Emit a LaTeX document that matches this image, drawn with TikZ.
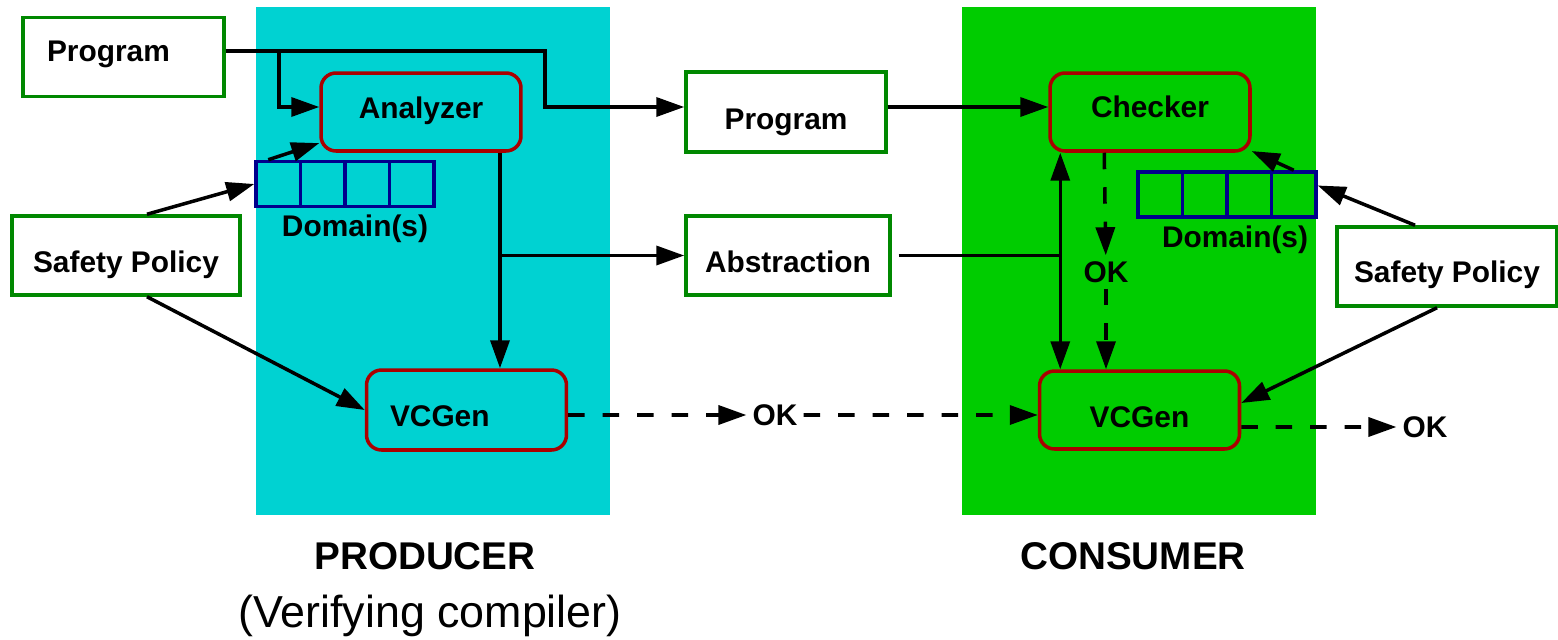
\documentclass[tikz,border=0pt]{standalone}
\usepackage{fontspec}
\setmainfont{Liberation Sans}
\usetikzlibrary{arrows.meta}

\definecolor{prodbg}{RGB}{0,210,210}
\definecolor{consbg}{RGB}{0,204,0}
\definecolor{boxgreen}{RGB}{0,136,0}
\definecolor{boxred}{RGB}{170,0,0}
\definecolor{cellblue}{RGB}{0,0,140}

\begin{document}
\begin{tikzpicture}[x=0.02cm, y=-0.02cm, font=\fontsize{17}{20}\selectfont\bfseries,
  >={Triangle[length=0.56cm,width=0.38cm]},
  textdrop/.style={text height=#1, text depth=0.13cm},
  gbox/.style={draw=boxgreen, line width=2pt, fill=white, minimum height=1.58cm, inner sep=0pt},
  rbox/.style={draw=boxred, line width=2pt, rounded corners=0.3cm, minimum width=4cm, minimum height=1.56cm, inner sep=0pt},
  cell/.style={draw=cellblue, line width=2pt, minimum width=0.89cm, minimum height=0.9cm, inner sep=0pt},
  flow/.style={line width=2pt, ->},
  okflow/.style={flow, dash pattern=on 0.33cm off 0.36cm}]
\useasboundingbox (0,0) rectangle (1558,639);
% the two sides
\fill[prodbg] (256,7) rectangle (610,515); \fill[consbg] (962,7) rectangle (1316,515);
\node[font=\fontsize{22}{26}\selectfont\bfseries] (prodlab) at (425,556) {PRODUCER};
\node[font=\fontsize{25.5}{30}\selectfont] (prodsub) at (430,616) {(Verifying compiler)};
\node[font=\fontsize{22}{26}\selectfont\bfseries] (conslab) at (1133,556) {CONSUMER};
% producer
\node[gbox, textdrop=0.32cm, text width=3.06cm, align=left, inner xsep=0.48cm] (prog1) at (123.5,57) {Program};
\node[gbox, textdrop=0.82cm, minimum width=4.56cm] (safe1) at (126,255.5) {Safety Policy};
\node[rbox, textdrop=0.40cm] (anal) at (421,112) {Analyzer};
\node[rbox, textdrop=0.80cm, minimum height=1.6cm, text width=3.06cm, align=left, inner xsep=0.46cm] (vcg1) at (466.5,410) {VCGen};
\foreach \c [count=\k] in {a,b,c,d} \node[cell] (d1\c) at (233.75+44.5*\k,184) {};
\node (dom1) at (355,229) {Domain(s)};
% in between
\node[gbox, textdrop=0.84cm, minimum width=4cm, minimum height=1.6cm] (prog2) at (786,112) {Program};
\node[gbox, textdrop=0.82cm, minimum width=4.08cm] (abst) at (788,255.5) {Abstraction};
\node (ok1) at (775,415) {OK};
% consumer
\node[rbox, textdrop=0.36cm] (chk) at (1150,112) {Checker};
\node[rbox, textdrop=0.84cm] (vcg2) at (1139.5,410) {VCGen};
\node[gbox, textdrop=0.78cm, minimum width=4.4cm] (safe2) at (1447,266.5) {Safety Policy};
\foreach \c [count=\k] in {a,b,c,d} \node[cell] (d2\c) at (1115.75+44.5*\k,194.5) {};
\node (dom2) at (1235,240) {Domain(s)};
\node (ok3) at (1106,272) {OK}; \node (ok2) at (1425,427) {OK};
% connectors
\coordinate (pj) at (545,80); \coordinate (aj) at (279,51); \coordinate (vx) at ([xshift=.24cm]chk.south west);
\draw[flow] ([yshift=.12cm]prog1.east) -| (pj) |- ([yshift=.1cm]prog2.west);
\draw[flow] (aj) |- ([yshift=.1cm]anal.west);
\draw[flow] ([xshift=.42cm]safe1.north) -- (d1a.west);
\draw[flow] ([xshift=-.2cm]d1a.north) -- (anal.197);
\draw[flow] ([xshift=.42cm]safe1.south) -- (vcg1.west);
\coordinate (a1) at ([xshift=1.58cm]anal.south);
\draw[flow] (a1) -- (a1 |- vcg1.north); \draw[flow] (a1 |- abst.west) -- (abst.west);
\draw[flow] ([yshift=.1cm]prog2.east) -- ([yshift=.1cm]chk.west);
\draw[line width=2pt] ([xshift=.14cm]abst.east) -- (abst.east -| vx);
\draw[line width=2pt, <->] (vx) -- (vx |- vcg2.north);
\draw[okflow] ([xshift=1.12cm]chk.south west) -- (ok3); \draw[okflow] (ok3) -- (ok3 |- vcg2.north);
\draw[okflow] ([yshift=-.1cm]vcg1.east) -- (ok1); \draw[okflow] (ok1) -- ([yshift=-.1cm]vcg2.west);
\draw[okflow] ([yshift=-.34cm]vcg2.east) -- (ok2);
\draw[flow] ([xshift=-.64cm]safe2.north) -- ([yshift=.18cm]d2d.east);
\draw[flow] (d2d.north) -- (chk.-21);
\draw[flow] ([xshift=-.2cm]safe2.south) -- ([yshift=.14cm]vcg2.east);
\end{tikzpicture}
\end{document}
